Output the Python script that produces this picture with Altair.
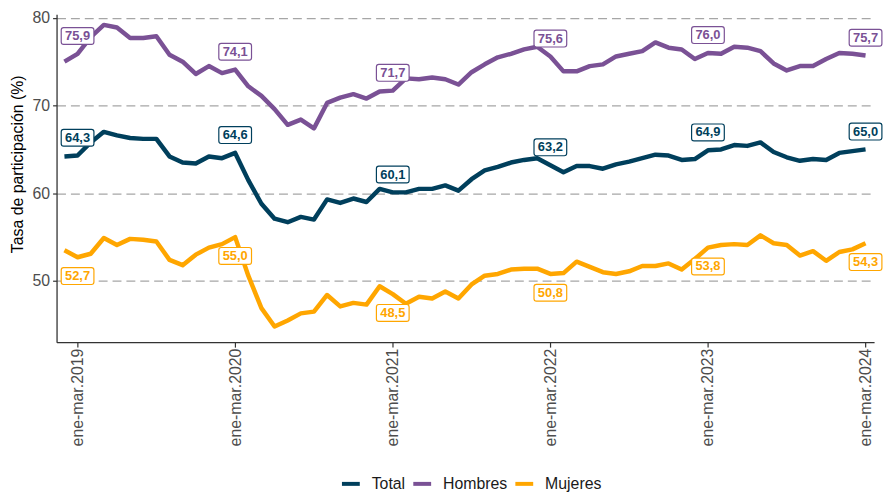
import altair as alt
import pandas as pd

# Trimestres móviles: índice 0 = dic-feb 2019 ... índice 61 = ene-mar 2024
total = [64.2, 64.3, 65.8, 67.0, 66.6, 66.3, 66.2, 66.2, 64.2, 63.5,
         63.4, 64.2, 64.0, 64.6, 61.5, 58.8, 57.1, 56.7, 57.3, 57.0,
         59.3, 58.9, 59.4, 59.0, 60.5, 60.1, 60.1, 60.5, 60.5, 60.9,
         60.3, 61.6, 62.6, 63.0, 63.5, 63.8, 64.0, 63.2, 62.4, 63.1,
         63.1, 62.8, 63.3, 63.6, 64.0, 64.4, 64.3, 63.8, 63.9, 64.9,
         65.0, 65.5, 65.4, 65.8, 64.7, 64.1, 63.7, 63.9, 63.8, 64.6,
         64.8, 65.0]
hombres = [75.0, 75.9, 77.8, 79.2, 78.9, 77.7, 77.7, 77.9, 75.8, 75.0,
           73.6, 74.5, 73.7, 74.1, 72.2, 71.1, 69.6, 67.8, 68.4, 67.4,
           70.3, 70.9, 71.3, 70.8, 71.6, 71.7, 73.1, 73.0, 73.2, 73.0,
           72.4, 73.8, 74.7, 75.5, 75.9, 76.4, 76.7, 75.6, 73.9, 73.9,
           74.5, 74.7, 75.6, 75.9, 76.2, 77.2, 76.6, 76.4, 75.3, 76.0,
           75.9, 76.7, 76.6, 76.2, 74.8, 74.0, 74.5, 74.5, 75.3, 76.0,
           75.9, 75.7]
mujeres = [53.5, 52.7, 53.1, 54.9, 54.1, 54.8, 54.7, 54.5, 52.4, 51.8,
           53.0, 53.8, 54.2, 55.0, 50.6, 46.9, 44.8, 45.5, 46.3, 46.5,
           48.4, 47.1, 47.5, 47.3, 49.4, 48.5, 47.4, 48.2, 48.0, 48.8,
           48.0, 49.6, 50.6, 50.8, 51.3, 51.4, 51.4, 50.8, 50.9, 52.2,
           51.6, 51.0, 50.8, 51.1, 51.7, 51.7, 52.0, 51.3, 52.5, 53.8,
           54.1, 54.2, 54.1, 55.2, 54.3, 54.1, 52.9, 53.4, 52.3, 53.3,
           53.6, 54.3]

series = ["Total", "Hombres", "Mujeres"]
colors = ["#003f5c", "#7a5195", "#ffa600"]
tick_idx = [1, 13, 25, 37, 49, 61]
tick_labels = ["ene-mar.2019", "ene-mar.2020", "ene-mar.2021",
               "ene-mar.2022", "ene-mar.2023", "ene-mar.2024"]
y_ticks = [50, 60, 70, 80]

rows = []
for name, vals in zip(series, [total, hombres, mujeres]):
    for i, v in enumerate(vals):
        rows.append({"idx": i, "valor": v, "serie": name,
                     "etiqueta": f"{v:.1f}".replace(".", ",")})
df = pd.DataFrame(rows)
lab = df[df["idx"].isin(tick_idx)]
lab_up = lab[lab["serie"] != "Mujeres"]
lab_dn = lab[lab["serie"] == "Mujeres"]

FONT = "Liberation Sans"
labels_js = "[" + ",".join(f"'{t}'" for t in tick_labels) + "]"
idx_js = "[" + ",".join(str(t) for t in tick_idx) + "]"

x_enc = alt.X("idx:Q",
              scale=alt.Scale(domain=[-0.6, 61.65], nice=False, zero=False),
              axis=alt.Axis(values=tick_idx, labelAngle=-90,
                            labelExpr=f"{labels_js}[indexof({idx_js}, datum.value)]",
                            title=None, grid=False, tickSize=5,
                            labelPadding=1, labelFontSize=16,
                            labelColor="#4d4d4d", labelFont=FONT,
                            domainColor="#333333", tickColor="#333333",
                            domainWidth=1.3, tickWidth=1.2))
y_enc = alt.Y("valor:Q",
              scale=alt.Scale(domain=[43.02, 80.42], nice=False, zero=False),
              axis=alt.Axis(values=y_ticks, title="Tasa de participación (%)",
                            grid=True, gridDash=[9, 5], gridColor="#a6a6a6",
                            gridWidth=1.3, tickSize=4, labelPadding=3,
                            labelFontSize=16, labelColor="#4d4d4d",
                            labelFont=FONT, titleFont=FONT, titleFontSize=16,
                            titleFontWeight="normal", titleColor="#000000",
                            titleAngle=-90, titleX=-39, titleY=151,
                            titleAlign="center", titleBaseline="middle",
                            domainColor="#333333", tickColor="#333333",
                            domainWidth=1.3, tickWidth=1.2))

cscale = alt.Scale(domain=series, range=colors)

lines = alt.Chart(df).mark_line(strokeWidth=4.5, strokeJoin="round").encode(
    x=x_enc, y=y_enc,
    color=alt.Color("serie:N", scale=cscale, sort=series,
                    legend=alt.Legend(title=None, orient="none", direction="horizontal",
                                      legendX=286, legendY=463,
                                      symbolType="stroke", symbolSize=324,
                                      symbolStrokeWidth=4, labelFontSize=16,
                                      labelFont=FONT, labelColor="#1a1a1a",
                                      labelOffset=10, columnPadding=0,
                                      padding=0)),
    detail="serie:N",
)

box_path = ("M-0.85,-0.515L0.85,-0.515Q1,-0.515,1,-0.365L1,0.365Q1,0.515,0.85,0.515"
            "L-0.85,0.515Q-1,0.515,-1,0.365L-1,-0.365Q-1,-0.515,-0.85,-0.515Z")


def label_layers(data, off):
    box = alt.Chart(data).mark_point(shape=box_path, size=1089, filled=False,
                                     fill="white", strokeWidth=1.2, opacity=1,
                                     yOffset=off).encode(
        x="idx:Q", y="valor:Q",
        stroke=alt.Stroke("serie:N", scale=cscale, legend=None),
    )
    txt = alt.Chart(data).mark_text(font=FONT, fontWeight="bold", fontSize=13,
                                    dy=off, baseline="middle", align="center").encode(
        x="idx:Q", y="valor:Q", text="etiqueta:N",
        color=alt.Color("serie:N", scale=cscale),
    )
    return [box, txt]


layers = [lines] + label_layers(lab_up, -18) + label_layers(lab_dn, 19)

chart = alt.layer(*layers).properties(
    width=825, height=331,
    autosize=alt.AutoSizeParams(type="none"),
    padding={"left": 49, "top": 4, "right": 9, "bottom": 152},
    background="white",
).configure_view(stroke=None)

chart.save("out.html", embed_options={"renderer": "svg", "actions": False})
